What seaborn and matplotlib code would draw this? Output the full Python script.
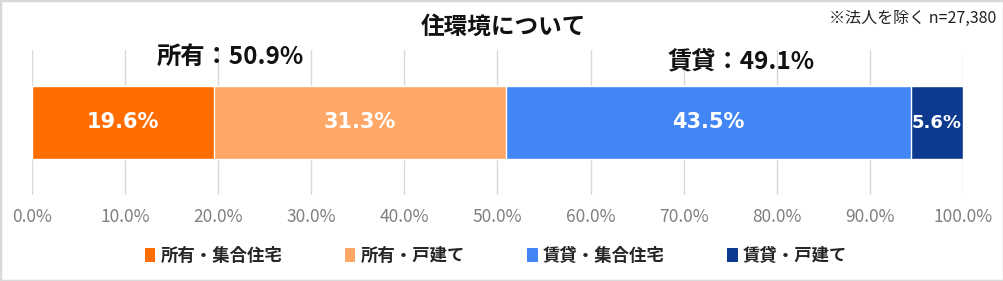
import matplotlib
matplotlib.use("Agg")
import matplotlib.pyplot as plt
import seaborn as sns
import pandas as pd
import numpy as np
from matplotlib.patches import Rectangle, Patch

categories = ["所有・集合住宅", "所有・戸建て", "賃貸・集合住宅", "賃貸・戸建て"]
values = [19.6, 31.3, 43.5, 5.6]
colors = ["#FF6D00", "#FFA766", "#4285F4", "#0D3A8F"]
group_labels = ["所有：50.9%", "賃貸：49.1%"]
tick_values = [0, 10, 20, 30, 40, 50, 60, 70, 80, 90, 100]
tick_labels = [f"{v:.1f}%" for v in tick_values]
title = "住環境について"
note = "※法人を除く n=27,380"

sns.set_theme(style="white")
plt.rcParams['font.family'] = ['Noto Sans CJK JP', 'DejaVu Sans']

fig = plt.figure(figsize=(10.04, 2.81), dpi=100)
ax = fig.add_axes([32/1004, 1-195/281, (963-32)/1004, (195-50)/281])

cum = np.cumsum(values)
df = pd.DataFrame({"cat": categories, "cum": cum, "row": ["all"]*4})
for i in range(len(categories)-1, -1, -1):
    sns.barplot(data=df.iloc[[i]], x="cum", y="row", color=colors[i],
                saturation=1, width=1.0, ax=ax, zorder=3, orient="h")

ax.set_ylim(1.0, -1.0)
ax.set_xlim(0, 100)
ax.set_xticks(tick_values)
ax.set_xticklabels(tick_labels, color="#7F7F7F", fontsize=12.5)
ax.tick_params(axis="x", length=0, pad=9)
ax.set_yticks([])
ax.set_xlabel("")
ax.set_ylabel("")
for s in ax.spines.values():
    s.set_visible(False)
ax.grid(axis="x", color="#D9D9D9", linewidth=1, zorder=0)
ax.set_axisbelow(True)

starts = cum - np.array(values)
for i, v in enumerate(values):
    fs = 15 if v > 10 else 13
    ax.text(starts[i] + v/2, 0, f"{v}%", ha="center", va="center",
            color="white", fontsize=fs, fontweight="bold", zorder=5,
            family=['DejaVu Sans'])

fig.text(503/1004, 1-27/281, title, ha="center", va="center", fontsize=17, fontweight="bold", color="#111111")
fig.text(996/1004, 1-18/281, note, ha="right", va="center", fontsize=11.5, color="#222222")
fig.text(230/1004, 1-57/281, group_labels[0], ha="center", va="center", fontsize=17.5, fontweight="bold", color="#111111")
fig.text(741/1004, 1-62/281, group_labels[1], ha="center", va="center", fontsize=17.5, fontweight="bold", color="#111111")

handles = [Patch(facecolor=c, edgecolor="none") for c in colors]
leg = fig.legend(handles, categories, loc="center", bbox_to_anchor=(496/1004, 1-256/281),
                 ncol=4, frameon=False, handlelength=0.6, handleheight=0.9,
                 handletextpad=0.3, columnspacing=3.6,
                 prop={"size": 12.5, "weight": "bold", "family": ['Noto Sans CJK JP', 'DejaVu Sans']})

fig.patches.append(Rectangle((0, 0), 1, 1, transform=fig.transFigure, fill=False,
                             edgecolor="#D9D9D9", linewidth=2.5))

fig.savefig("out.png", dpi=100)
